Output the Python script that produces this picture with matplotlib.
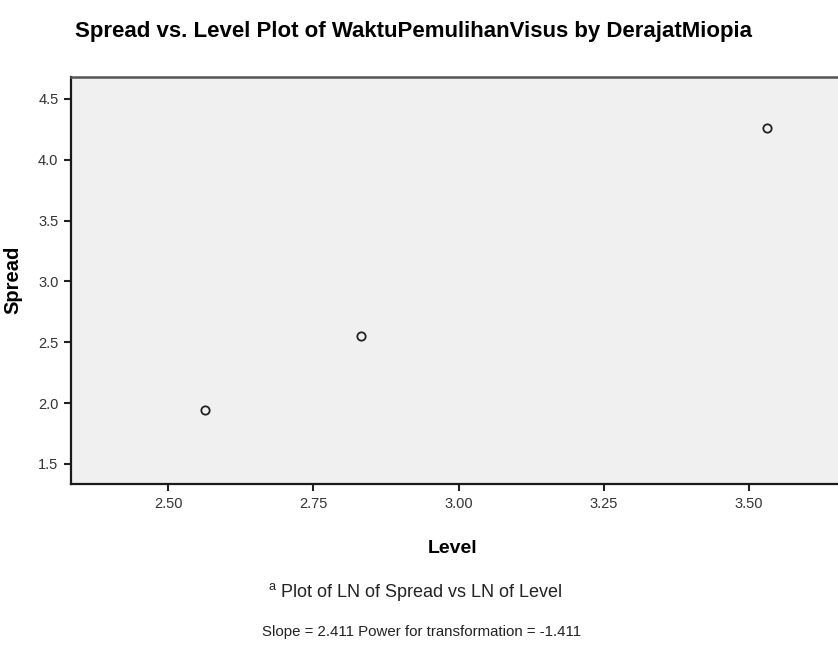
import matplotlib
matplotlib.use("Agg")
import matplotlib.pyplot as plt

# Data (LN of level vs LN of spread)
levels = [2.564, 2.832, 3.530]
spreads = [1.942, 2.548, 4.264]

x_ticks = [2.50, 2.75, 3.00, 3.25, 3.50]
y_ticks = [1.5, 2.0, 2.5, 3.0, 3.5, 4.0, 4.5]

title = "Spread vs. Level Plot of WaktuPemulihanVisus by DerajatMiopia"
note_1 = "Plot of LN of Spread vs LN of Level"
note_2 = "Slope = 2.411 Power for transformation = -1.411"

plt.rcParams['font.family'] = ['Liberation Sans', 'DejaVu Sans']
plt.rcParams['mathtext.fontset'] = 'custom'
plt.rcParams['mathtext.rm'] = 'Liberation Sans'

fig = plt.figure(figsize=(8.38, 6.46), dpi=100)
fig.patch.set_facecolor('white')

# plot area runs off the right edge, as in the reference
ax = fig.add_axes([71 / 838, 1 - 484 / 646, 767 / 838, 407 / 646])
ax.set_facecolor('#f0f0f0')

ax.plot(levels, spreads, linestyle='none', marker='o', markersize=6,
        markerfacecolor='none', markeredgecolor='#222222', markeredgewidth=1.3)

ax.set_xlim(2.333, 3.653)
ax.set_ylim(1.335, 4.68)
ax.set_xticks(x_ticks)
ax.set_xticklabels([f"{t:.2f}" for t in x_ticks])
ax.set_yticks(y_ticks)
ax.set_yticklabels([f"{t:.1f}" for t in y_ticks])

ax.tick_params(axis='both', direction='out', length=5, width=1.5,
               color='#222222', labelsize=10.5, labelcolor='#333333', pad=4)

for side in ['left', 'bottom']:
    ax.spines[side].set_color('#1a1a1a')
    ax.spines[side].set_linewidth(1.6)
ax.spines['top'].set_color('#555555')
ax.spines['top'].set_linewidth(1.8)
ax.spines['right'].set_visible(False)

ax.set_xlabel("Level", fontsize=14, fontweight='bold')
ax.set_ylabel("Spread", fontsize=14.5, fontweight='bold')
ax.xaxis.set_label_coords(0.497, -0.1376)
ax.yaxis.set_label_coords(-0.064, 0.501)

fig.text(0.494, 1 - 32 / 646, title, ha='center', va='center',
         fontsize=16, fontweight='bold')
fig.text(415 / 838, 1 - 592 / 646, r"$^{\mathrm{a}}$ " + note_1, ha='center', va='center',
         fontsize=13, color='#222222')
fig.text(422 / 838, 1 - 632 / 646, note_2, ha='center', va='center',
         fontsize=10.8, color='#222222')

fig.savefig("out.png", dpi=100)
